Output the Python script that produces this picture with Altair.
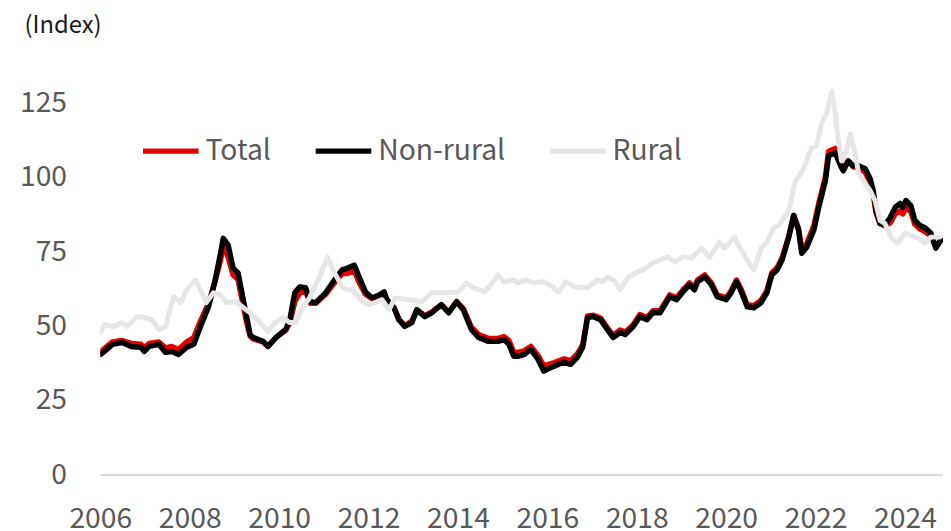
import altair as alt
import pandas as pd

# Non-rural and Total share the same time stamps (decimal years)
t_main = [2006.00, 2006.09, 2006.27, 2006.49, 2006.69, 2006.91, 2006.98, 2007.09, 2007.31, 2007.46,
          2007.60, 2007.75, 2007.93, 2008.09, 2008.24, 2008.42, 2008.57, 2008.69, 2008.75, 2008.86,
          2008.97, 2009.08, 2009.26, 2009.35, 2009.42, 2009.64, 2009.75, 2009.93, 2010.15, 2010.24,
          2010.35, 2010.46, 2010.59, 2010.70, 2010.82, 2011.04, 2011.19, 2011.41, 2011.53, 2011.68,
          2011.79, 2011.93, 2012.08, 2012.24, 2012.35, 2012.41, 2012.57, 2012.68, 2012.81, 2012.97,
          2013.08, 2013.26, 2013.41, 2013.63, 2013.79, 2013.97, 2014.12, 2014.30, 2014.46, 2014.68,
          2014.90, 2015.03, 2015.14, 2015.25, 2015.34, 2015.48, 2015.63, 2015.79, 2015.92, 2016.14,
          2016.36, 2016.52, 2016.67, 2016.79, 2016.90, 2017.03, 2017.19, 2017.34, 2017.47, 2017.63,
          2017.74, 2017.92, 2018.07, 2018.23, 2018.36, 2018.52, 2018.74, 2018.89, 2019.03, 2019.18,
          2019.29, 2019.36, 2019.52, 2019.67, 2019.80, 2020.00, 2020.11, 2020.23, 2020.34, 2020.47,
          2020.62, 2020.78, 2020.91, 2021.02, 2021.14, 2021.25, 2021.40, 2021.51, 2021.62, 2021.69,
          2021.80, 2021.96, 2022.07, 2022.22, 2022.29, 2022.44, 2022.56, 2022.62, 2022.73, 2022.84,
          2022.96, 2023.11, 2023.22, 2023.29, 2023.35, 2023.44, 2023.55, 2023.67, 2023.78, 2023.89,
          2023.95, 2024.02, 2024.13, 2024.22, 2024.33, 2024.46, 2024.58, 2024.69, 2024.80]

non_rural = [40.3, 41.3, 43.7, 44.3, 43.0, 42.7, 41.3, 43.0, 43.7, 41.0,
             41.3, 40.3, 42.7, 43.7, 49.7, 56.3, 65.3, 74.3, 79.3, 77.0,
             69.3, 67.7, 54.0, 47.0, 46.0, 44.7, 43.0, 46.0, 48.7, 52.0,
             61.0, 63.0, 62.7, 58.0, 57.7, 61.0, 64.3, 68.7, 69.3, 70.3,
             66.3, 61.3, 59.3, 60.3, 61.3, 58.7, 56.0, 52.0, 49.7, 51.0,
             55.3, 53.0, 54.3, 57.0, 54.3, 58.0, 55.3, 48.7, 46.0, 44.7,
             44.7, 45.3, 43.7, 39.7, 39.7, 40.3, 42.0, 38.7, 34.7, 36.3,
             37.7, 37.0, 39.3, 42.7, 52.7, 53.0, 52.0, 48.7, 46.0, 47.7,
             47.0, 49.7, 53.0, 52.0, 54.3, 54.3, 59.7, 58.7, 61.3, 63.7,
             62.0, 64.7, 66.3, 63.7, 59.7, 58.7, 61.0, 64.7, 61.3, 56.3,
             56.0, 57.7, 61.0, 67.0, 68.7, 72.0, 79.7, 87.0, 82.0, 74.3,
             76.3, 82.0, 89.7, 98.7, 107.0, 108.0, 103.7, 102.0, 105.3, 103.7,
             103.7, 102.7, 99.3, 95.3, 88.7, 84.3, 83.7, 86.3, 89.7, 91.0,
             89.7, 92.0, 90.3, 85.3, 83.7, 82.7, 81.0, 76.0, 78.7]

total = [41.0, 42.3, 44.5, 45.0, 44.0, 43.7, 42.5, 44.0, 44.5, 42.5,
         43.0, 42.0, 44.5, 46.0, 51.5, 57.5, 65.0, 72.0, 77.0, 73.0,
         67.0, 65.5, 52.0, 46.5, 45.5, 44.5, 43.0, 46.0, 48.5, 51.0,
         58.0, 61.0, 61.5, 57.5, 57.5, 60.5, 63.5, 67.5, 67.5, 68.5,
         64.5, 60.5, 59.0, 60.0, 60.5, 58.5, 56.0, 52.0, 50.0, 51.5,
         55.3, 53.3, 54.5, 57.0, 54.5, 58.0, 55.7, 49.5, 47.0, 45.7,
         45.7, 46.3, 45.0, 41.0, 41.0, 41.5, 43.0, 40.0, 36.5, 37.5,
         38.8, 38.3, 40.5, 43.5, 53.2, 53.5, 52.5, 49.3, 46.7, 48.5,
         47.8, 50.3, 53.7, 52.7, 55.0, 55.0, 60.3, 59.3, 62.0, 64.3,
         62.7, 65.3, 67.0, 64.3, 60.3, 59.3, 61.7, 65.3, 62.0, 57.0,
         56.7, 58.5, 61.7, 67.7, 69.5, 72.7, 80.0, 87.0, 82.5, 75.5,
         77.5, 83.5, 91.0, 100.0, 108.5, 109.5, 104.5, 102.5, 105.3, 103.3,
         103.0, 101.5, 98.0, 94.0, 88.0, 84.3, 83.5, 84.5, 87.5, 88.5,
         87.5, 89.5, 88.3, 84.0, 82.5, 81.5, 80.0, 76.5, 78.7]

t_rural = [2006.00, 2006.09, 2006.31, 2006.47, 2006.60, 2006.82, 2006.98, 2007.15, 2007.31, 2007.46,
           2007.64, 2007.80, 2007.93, 2008.13, 2008.24, 2008.37, 2008.53, 2008.69, 2008.82, 2009.04,
           2009.20, 2009.35, 2009.57, 2009.75, 2009.91, 2010.08, 2010.24, 2010.37, 2010.53, 2010.68,
           2010.90, 2011.08, 2011.24, 2011.41, 2011.53, 2011.64, 2011.86, 2012.01, 2012.19, 2012.30,
           2012.46, 2012.59, 2012.90, 2013.19, 2013.41, 2013.70, 2014.01, 2014.19, 2014.34, 2014.59,
           2014.74, 2014.90, 2015.03, 2015.25, 2015.34, 2015.52, 2015.70, 2015.92, 2016.12, 2016.25,
           2016.41, 2016.63, 2016.90, 2017.12, 2017.23, 2017.36, 2017.52, 2017.63, 2017.81, 2018.01,
           2018.14, 2018.36, 2018.52, 2018.69, 2018.85, 2019.03, 2019.23, 2019.45, 2019.63, 2019.85,
           2019.96, 2020.18, 2020.34, 2020.47, 2020.62, 2020.78, 2020.91, 2021.07, 2021.18, 2021.33,
           2021.40, 2021.55, 2021.67, 2021.80, 2021.91, 2022.02, 2022.13, 2022.24, 2022.36, 2022.44,
           2022.51, 2022.58, 2022.69, 2022.78, 2022.89, 2022.96, 2023.11, 2023.22, 2023.33, 2023.44,
           2023.55, 2023.69, 2023.84, 2024.00, 2024.13, 2024.29, 2024.44, 2024.58, 2024.78]

rural = [47.7, 50.3, 49.7, 51.0, 49.7, 53.0, 52.7, 52.0, 48.7, 49.7,
         59.7, 57.7, 62.0, 65.3, 62.0, 57.7, 61.0, 60.3, 57.7, 58.0,
         56.0, 54.3, 51.0, 48.0, 51.0, 52.7, 51.0, 51.0, 56.3, 59.3,
         66.3, 73.0, 67.7, 63.0, 62.0, 62.0, 58.0, 57.0, 58.0, 58.7,
         55.3, 59.3, 58.7, 58.0, 61.0, 61.0, 61.3, 64.3, 62.7, 61.3,
         63.7, 67.0, 64.7, 65.3, 64.3, 65.3, 64.3, 64.7, 63.0, 61.3,
         64.7, 63.0, 62.7, 65.3, 64.7, 66.3, 64.7, 62.0, 66.3, 68.0,
         68.7, 71.0, 72.0, 73.0, 71.3, 73.0, 72.7, 76.0, 73.0, 78.0,
         76.0, 79.7, 75.3, 72.0, 68.7, 76.0, 78.0, 83.0, 83.7, 87.0,
         88.7, 98.7, 101.0, 105.3, 109.7, 110.3, 117.7, 121.0, 128.7, 121.0,
         112.0, 105.3, 108.7, 114.3, 107.7, 101.0, 97.7, 95.3, 92.0, 85.3,
         84.3, 79.7, 77.7, 81.0, 80.3, 79.3, 77.7, 79.7, 79.7]

series_names = ["Total", "Non-rural", "Rural"]
series_colors = ["#e60000", "#000000", "#e6e6e6"]
x_ticks = [2006, 2008, 2010, 2012, 2014, 2016, 2018, 2020, 2022, 2024]
y_ticks = [0, 25, 50, 75, 100, 125]

rows = []
for t, v in zip(t_main, total):
    rows.append({"t": t, "v": v, "s": "Total"})
for t, v in zip(t_main, non_rural):
    rows.append({"t": t, "v": v, "s": "Non-rural"})
for t, v in zip(t_rural, rural):
    rows.append({"t": t, "v": v, "s": "Rural"})
df = pd.DataFrame(rows)

FONT = "Noto Sans CJK KR"
FS = 28.5

x_enc = alt.X("t:Q", scale=alt.Scale(domain=[2006, 2024.85], nice=False, zero=False),
              axis=alt.Axis(values=x_ticks, format="d", title=None, grid=False, ticks=False,
                            domainColor="#d9d9d9", domainWidth=2, labelFontSize=FS,
                            labelColor="#595959", labelPadding=30, labelFont=FONT,
                            labelFlush=False, labelOverlap=False, labelBound=False))
y_enc = alt.Y("v:Q", scale=alt.Scale(domain=[0, 150], nice=False),
              axis=alt.Axis(values=y_ticks, title="(Index)", grid=False, ticks=False, domain=False,
                            labelFontSize=FS, labelColor="#595959", labelPadding=34, labelFont=FONT,
                            titleAngle=0, titleAlign="left", titleBaseline="middle",
                            titleX=-77, titleY=-2, titleFontSize=24, titleFontWeight="normal",
                            titleColor="#1a1a1a", titleFont=FONT))
color_enc = alt.Color("s:N", scale=alt.Scale(domain=series_names, range=series_colors),
                      legend=alt.Legend(title=None, orient="none", direction="horizontal",
                                        legendX=40, legendY=93, symbolType="stroke",
                                        symbolSize=3136, symbolStrokeWidth=5.5, labelOffset=4,
                                        columnPadding=34, labelFontSize=FS, labelColor="#595959",
                                        labelFont=FONT))

layers = []
widths = {"Total": 5.5, "Non-rural": 5.5, "Rural": 5.0}
for name in series_names:
    layers.append(
        alt.Chart(df).transform_filter(alt.datum.s == name)
        .mark_line(strokeWidth=widths[name], strokeJoin="round", strokeCap="round", clip=True)
        .encode(x=x_enc, y=y_enc, color=color_enc, order="t:Q")
    )

chart = alt.layer(*layers).properties(
    width=849, height=450,
    background="white",
    autosize=alt.AutoSizeParams(type="none"),
    padding={"left": 93, "top": 18, "right": 0, "bottom": 55},
).configure_view(stroke=None, strokeWidth=0)

chart.save("out.html", embed_options={"renderer": "svg", "actions": False})
